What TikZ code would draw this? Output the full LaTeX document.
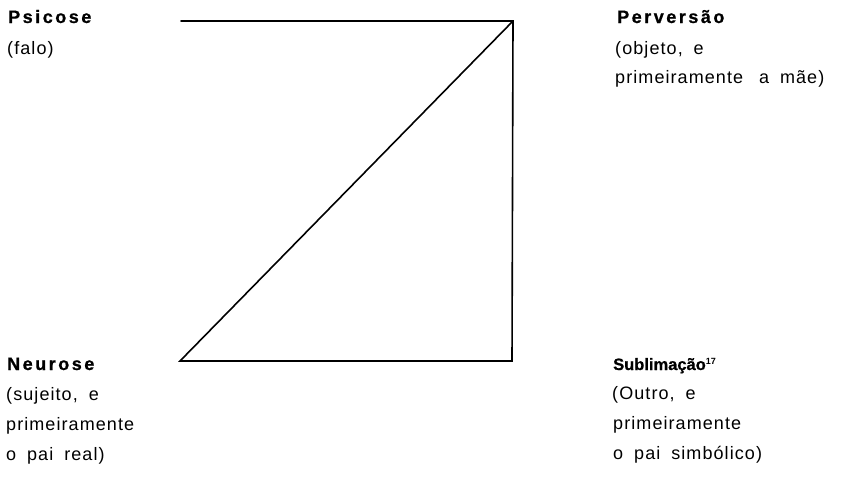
\documentclass[tikz,border=0pt]{standalone}
\usepackage{fontspec}
\setmainfont{Liberation Sans}
\newfontfamily\lblfont[LetterSpace=6,WordSpace=1.8]{Liberation Sans}
\newfontfamily\ttlfont[LetterSpace=14,BoldFeatures={FakeBold=0.8}]{Liberation Sans}
\newfontfamily\subfont[BoldFeatures={FakeBold=0.8}]{Liberation Sans}
\newfontfamily\supfont{Liberation Sans}
\begin{document}
\begin{tikzpicture}[x=1pt,y=-1pt,
  lbl/.style={anchor=base west,inner sep=0pt,font=\lblfont\fontsize{18}{18}\selectfont},
  ttl/.style={anchor=base west,inner sep=0pt,font=\ttlfont\bfseries\fontsize{18}{18}\selectfont},
  ttltight/.style={anchor=base west,inner sep=0pt,font=\subfont\bfseries\fontsize{16.5}{16.5}\selectfont},
  edge/.style={line width=1.6pt,line cap=round,line join=miter}]
\useasboundingbox (0,0) rectangle (842,480);
\coordinate (tl) at (181,21);
\coordinate (tr) at (513,21);
\coordinate (br) at (512,361);
\coordinate (bl) at (180,361);
\draw[edge] (tl) -- (tr) -- (br) -- (bl) -- (tr);
% Psicose
\node[ttl] (psi) at (8,23) {Psicose};
\node[lbl] (psi1) at (7,54) {(falo)};
% Perversao
\node[ttl] (per) at (617,23) {Perversão};
\node[lbl] (per1) at (615,54) {(objeto, e};
\node[lbl] (per2) at (615,83) {primeiramente\hspace{5pt} a mãe)};
% Neurose
\node[ttl] (neu) at (7,370) {Neurose};
\node[lbl] (neu1) at (6,400) {(sujeito, e};
\node[lbl] (neu2) at (6,430) {primeiramente};
\node[lbl] (neu3) at (6,460) {o pai real)};
% Sublimacao
\node[ttltight] (sub) at (613,370) {Sublimação{\supfont\fontsize{9}{9}\selectfont\raisebox{6pt}{17}}};
\node[lbl] (sub1) at (612,399) {(Outro, e};
\node[lbl] (sub2) at (613,429) {primeiramente};
\node[lbl] (sub3) at (613,459) {o pai simbólico)};
\end{tikzpicture}
\end{document}
